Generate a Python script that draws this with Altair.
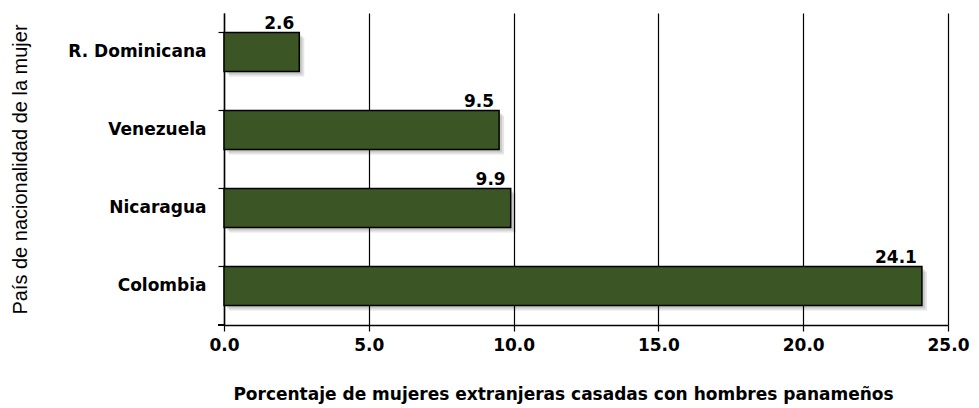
import altair as alt
import pandas as pd

countries = ["R. Dominicana", "Venezuela", "Nicaragua", "Colombia"]
values = [2.6, 9.5, 9.9, 24.1]
value_labels = ["2.6", "9.5", "9.9", "24.1"]

df = pd.DataFrame({"pais": countries, "valor": values, "etiqueta": value_labels})

FONT = "DejaVu Sans"
GREEN = "#3b5524"

y_enc = alt.Y(
    "pais:N",
    sort=countries,
    scale=alt.Scale(paddingInner=0.5, paddingOuter=0.25),
    axis=alt.Axis(
        title="País de nacionalidad de la mujer",
        titleFont="Liberation Sans", titleFontSize=20, titleFontWeight="normal", titleColor="#000",
        titleX=-204, titleBaseline="middle", titleAngle=-90,
        labelFont=FONT, labelFontSize=17, labelFontWeight="bold", labelColor="#000",
        labelPadding=12, tickSize=6, tickColor="#000", tickWidth=1.2,
        bandPosition=0, domainColor="#000", domainWidth=1.5, grid=False,
    ),
)

x_scale = alt.Scale(domain=[0, 25], nice=False)
x_enc = alt.X(
    "valor:Q",
    scale=x_scale,
    axis=alt.Axis(
        title="Porcentaje de mujeres extranjeras casadas con hombres panameños",
        titleFont=FONT, titleFontSize=17, titleFontWeight="bold", titleColor="#000",
        titleX=339, titleY=61, titleBaseline="top", titleAlign="center",
        labelFont=FONT, labelFontSize=17, labelFontWeight="bold", labelColor="#000",
        labelPadding=6, labelFlush=False, labelOverlap=False,
        tickSize=6, tickColor="#000", tickWidth=1.2,
        values=[0, 5, 10, 15, 20, 25], format=".1f",
        domainColor="#000", domainWidth=1.5,
        grid=True, gridColor="#000", gridWidth=1.2, gridOpacity=1,
    ),
)

base = alt.Chart(df)

shadow1 = base.mark_bar(color="#000", opacity=0.10, xOffset=5, yOffset=5).encode(
    x=alt.X("valor:Q", scale=x_scale), y=alt.Y("pais:N", sort=countries)
)
shadow2 = base.mark_bar(color="#000", opacity=0.12, xOffset=3, yOffset=3).encode(
    x=alt.X("valor:Q", scale=x_scale), y=alt.Y("pais:N", sort=countries)
)

bars = base.mark_bar(color=GREEN, stroke="#000", strokeWidth=1.5).encode(x=x_enc, y=y_enc)

labels = base.mark_text(
    align="right", baseline="alphabetic", dx=-5, dy=-23,
    font=FONT, fontSize=17, fontWeight="bold", color="#000",
).encode(x=alt.X("valor:Q", scale=x_scale), y=alt.Y("pais:N", sort=countries), text="etiqueta:N")

bottom_tick = alt.Chart(df).mark_rule(color="#000", strokeWidth=1.2).encode(
    x=alt.value(-6), x2=alt.value(0), y=alt.value(312)
)

chart = (
    alt.layer(shadow1, shadow2, bars, labels, bottom_tick)
    .properties(
        width=724, height=312,
        autosize=alt.AutoSizeParams(type="none"),
        padding={"left": 216, "top": 5, "right": 22, "bottom": 80},
    )
    .configure_view(stroke=None)
)

chart.save("out.html", embed_options={"renderer": "svg", "actions": False})
